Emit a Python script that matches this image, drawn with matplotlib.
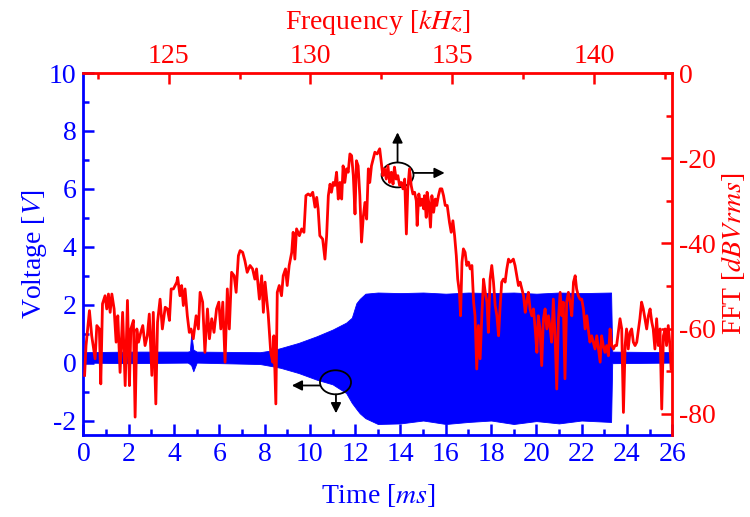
import matplotlib
matplotlib.use("Agg")
import matplotlib.pyplot as plt
from matplotlib.patches import Ellipse
from matplotlib.ticker import MultipleLocator

plt.rcParams["font.family"] = ["Liberation Serif", "DejaVu Serif"]
plt.rcParams["mathtext.fontset"] = "stix"
plt.rcParams["axes.unicode_minus"] = False
plt.rcParams["font.size"] = 20

BLUE = "#0000ff"
RED = "#ff0000"

# voltage signal envelope (time in ms, volts)
t_env = [0.0, 2.0, 4.6, 4.7, 4.76, 4.85, 5.0, 7.8, 8.3, 8.7, 9.5, 10.3, 11.0,
         11.6, 11.85, 12.05, 12.2, 12.45, 13.0, 14.0, 15.0, 16.0, 17.0, 18.0,
         19.0, 20.0, 21.0, 22.0, 23.3, 23.35, 26.0]
v_upper = [0.36, 0.38, 0.38, 0.40, 1.02, 0.45, 0.38, 0.36, 0.42, 0.50, 0.68,
           0.91, 1.14, 1.38, 1.55, 2.05, 2.20, 2.38, 2.42, 2.40, 2.42, 2.38,
           2.42, 2.40, 2.42, 2.38, 2.42, 2.40, 2.42, 0.38, 0.36]
v_lower = [0.00, -0.02, 0.00, -0.05, -0.10, -0.30, 0.00, -0.05, -0.12, -0.18,
           -0.36, -0.59, -0.75, -1.05, -1.39, -1.60, -1.75, -1.92, -2.12,
           -2.10, -2.00, -2.12, -2.05, -2.00, -2.12, -2.02, -2.10, -2.00,
           -2.05, -0.02, 0.00]

# FFT spectrum (kHz, dBVrms)
freq = [122.04, 122.09, 122.21, 122.29, 122.41, 122.47, 122.56, 122.61, 122.67,
        122.76, 122.82, 122.88, 122.94, 123.00, 123.08, 123.15, 123.21, 123.29,
        123.38, 123.47, 123.55, 123.62, 123.67, 123.76, 123.82, 123.88, 123.94,
        124.02, 124.09, 124.17, 124.25, 124.32, 124.41, 124.46, 124.55, 124.61,
        124.70, 124.78, 124.88, 124.96, 125.03, 125.09, 125.17, 125.29, 125.32,
        125.40, 125.46, 125.52, 125.58, 125.66, 125.73, 125.79, 125.87, 125.97,
        126.05, 126.11, 126.20, 126.28, 126.37, 126.44, 126.52, 126.60, 126.69,
        126.77, 126.84, 126.91, 126.99, 127.07, 127.14, 127.22, 127.31, 127.38,
        127.46, 127.52, 127.61, 127.69, 127.77, 127.87, 127.96, 128.04, 128.10,
        128.20, 128.28, 128.34, 128.40, 128.46, 128.51, 128.60, 128.67, 128.71,
        128.78, 128.83, 128.90, 128.98, 129.04, 129.12, 129.18, 129.25, 129.34,
        129.39, 129.45, 129.51, 129.61, 129.69, 129.77, 129.84, 129.92, 130.00,
        130.08, 130.16, 130.22, 130.27, 130.33, 130.43, 130.51, 130.57, 130.63,
        130.69, 130.74, 130.80, 130.86, 130.92, 130.98, 131.04, 131.10, 131.15,
        131.21, 131.27, 131.33, 131.39, 131.45, 131.51, 131.57, 131.62, 131.68,
        131.74, 131.80, 131.86, 131.92, 131.98, 132.04, 132.09, 132.15, 132.21,
        132.27, 132.35, 132.44,
        132.49, 132.55, 132.61, 132.67, 132.73, 132.79, 132.85, 132.91, 132.96,
        133.02, 133.08, 133.14, 133.20, 133.26, 133.32, 133.38, 133.43, 133.49,
        133.55, 133.61, 133.67, 133.73, 133.76, 133.82, 133.88, 133.93, 133.99,
        134.02, 134.08, 134.11, 134.17, 134.23, 134.28, 134.34, 134.40, 134.45,
        134.51, 134.57, 134.63, 134.69, 134.75, 134.82, 134.90, 134.96, 135.02,
        135.08, 135.14, 135.19, 135.25, 135.29, 135.34, 135.39, 135.45, 135.51,
        135.57, 135.63, 135.69, 135.75, 135.80, 135.86, 135.92, 135.98, 136.04,
        136.10, 136.16, 136.22, 136.27, 136.33, 136.39, 136.45, 136.51, 136.57,
        136.63, 136.68, 136.74, 136.80, 136.86, 136.92, 136.98, 137.04, 137.10,
        137.15, 137.21, 137.27, 137.33, 137.39, 137.45, 137.51, 137.57, 137.62,
        137.68, 137.74, 137.80, 137.86, 137.92, 137.98, 138.03, 138.09, 138.15,
        138.21, 138.27, 138.33, 138.39, 138.45, 138.50, 138.56, 138.62, 138.68,
        138.74, 138.80, 138.86, 138.91, 138.97, 139.03, 139.09, 139.15, 139.21,
        139.27, 139.33, 139.38, 139.44, 139.50, 139.56, 139.62, 139.68, 139.74,
        139.79, 139.85, 139.91, 139.97, 140.03, 140.09, 140.15, 140.21, 140.26,
        140.32, 140.38, 140.44, 140.50, 140.56, 140.62, 140.68, 140.73, 140.79,
        140.85, 140.91, 140.97, 141.03, 141.09, 141.14, 141.20, 141.26, 141.32,
        141.38, 141.44, 141.50, 141.56, 141.61, 141.67, 141.73, 141.79, 141.85,
        141.91, 141.97, 142.03, 142.08, 142.14, 142.20, 142.26, 142.32, 142.38,
        142.44, 142.50, 142.55, 142.61, 142.67, 142.71]
fft_db = [-71.0, -64.0, -55.8, -61.7, -67.1, -59.3, -60.1, -73.0, -54.2,
          -52.3, -55.4, -51.9, -56.2, -51.9, -55.4, -63.2, -57.0, -70.3,
          -56.2, -73.4, -53.4, -73.4, -60.1, -58.1, -80.8, -60.1, -63.2,
          -60.9, -59.3, -64.0, -61.7, -56.6, -71.0, -56.2, -77.7, -58.5,
          -53.1, -60.1, -55.0, -55.4, -58.1, -50.7, -50.7, -49.1, -48.0,
          -52.3, -49.9, -54.6, -50.7, -57.0, -60.9, -60.1, -62.4, -57.0,
          -60.1, -51.5, -53.8, -65.6, -55.4, -62.4, -57.7, -60.9, -55.4,
          -53.8, -60.1, -53.8, -67.9, -50.7, -60.1, -46.8, -47.6, -51.5,
          -42.9, -41.7, -42.1, -44.1, -46.8, -45.2, -46.0, -48.4, -46.0,
          -53.1, -47.6, -56.2, -49.1, -53.1, -56.6, -65.6, -67.9, -61.7,
          -77.7, -51.5, -49.9, -52.3, -47.6, -46.0, -49.9, -45.2, -42.1,
          -37.4, -43.7, -36.6, -38.2, -36.6, -37.4, -28.8, -28.4, -28.8,
          -28.0, -31.5, -29.2, -31.9, -38.2, -39.0, -43.7, -38.2, -28.8,
          -26.1, -28.0, -25.7, -26.4, -23.3, -29.6, -25.7, -29.6, -21.8,
          -25.7, -22.5, -23.3, -19.0, -19.4, -24.1, -33.1, -20.6, -21.8,
          -28.8, -39.7, -33.9, -30.4, -34.3, -22.5, -25.7, -21.8, -20.2,
          -18.6, -19.0, -17.8,
          -20.6, -24.1, -22.5, -24.9, -21.8, -25.7, -23.3, -26.1, -22.1,
          -24.9, -24.1, -26.4, -25.7, -27.2, -24.9, -37.8, -27.2, -22.5,
          -26.4, -28.4, -28.0, -30.0, -35.8, -28.4, -31.1, -29.6, -31.9,
          -28.8, -33.9, -28.0, -30.4, -36.2, -28.8, -32.7, -29.6, -31.1,
          -28.8, -27.2, -27.2, -28.8, -31.1, -31.1, -35.1, -37.4, -34.7,
          -38.2, -42.9, -48.4, -51.5, -57.0, -44.4, -41.3, -42.1, -45.2,
          -44.4, -46.0, -45.2, -53.8, -57.0, -69.5, -59.3, -67.1, -57.0,
          -48.4, -51.5, -53.8, -60.9, -48.4, -45.2, -49.1, -54.6, -57.0,
          -61.7, -55.4, -49.1, -48.4, -49.1, -46.0, -43.7, -44.4, -44.1,
          -43.7, -45.2, -47.6, -49.9, -49.1, -50.7, -52.3, -56.2, -53.8,
          -51.5, -55.4, -57.0, -55.4, -60.1, -65.6, -57.0, -60.1, -68.7,
          -57.7, -55.4, -60.1, -57.0, -60.1, -63.2, -53.1, -61.7, -74.2,
          -57.7, -51.5, -57.0, -53.8, -71.8, -53.8, -51.5, -53.8, -57.0,
          -49.1, -47.6, -50.7, -52.3, -53.1, -53.1, -55.4, -60.1, -57.0,
          -60.1, -63.2, -61.7, -63.2, -64.8, -61.7, -64.8, -67.9, -61.7,
          -64.0, -65.6, -64.0, -66.4, -60.1, -64.0, -64.8, -64.0, -64.0,
          -60.9, -57.7, -60.1, -79.7, -64.0, -60.1, -64.8, -60.9, -60.1,
          -63.2, -64.0, -63.2, -60.1, -57.7, -53.8, -55.4, -57.7, -60.1,
          -57.0, -55.4, -58.5, -60.1, -64.8, -57.7, -64.0, -60.1, -78.9,
          -61.7, -60.1, -64.0, -59.3, -64.0, -69.5]

fig = plt.figure(figsize=(7.5, 5.17), dpi=100)
ax = fig.add_axes([0.1113, 0.1586, 0.785, 0.7002])

ax.fill_between(t_env, v_lower, v_upper, color=BLUE, lw=0.6, edgecolor=BLUE)
ax.set_xlim(0, 26)
ax.set_ylim(-2.5, 10)
ax.set_xticks(range(0, 27, 2))
ax.xaxis.set_minor_locator(MultipleLocator(1))
ax.set_yticks(range(-2, 11, 2))
ax.yaxis.set_minor_locator(MultipleLocator(1))
ax.set_xlabel(r"Time [$ms$]", color=BLUE, labelpad=11)
ax.set_ylabel(r"Voltage [$V$]", color=BLUE, labelpad=0)
ax.tick_params(which="both", direction="in", colors=BLUE, width=1.8)
ax.tick_params(which="major", length=8, pad=5)
ax.tick_params(which="minor", length=4)
for side in ("left", "bottom"):
    ax.spines[side].set_color(BLUE)
    ax.spines[side].set_linewidth(2)
for side in ("top", "right"):
    ax.spines[side].set_visible(False)

# right axis (dB) and top axis (kHz) for the spectrum
ax_r = ax.twinx()
ax_f = ax_r.twiny()
ax_f.plot(freq, fft_db, color=RED, lw=2.0)
ax_f.set_xlim(122.0, 142.75)
ax_r.set_ylim(-85, 0)
ax_r.set_yticks(range(-80, 1, 20))
ax_r.yaxis.set_minor_locator(MultipleLocator(10))
ax_f.set_xticks([125, 130, 135, 140])
ax_f.xaxis.set_minor_locator(MultipleLocator(2.5))
ax_r.set_ylabel(r"FFT [$dBVrms$]", color=RED, labelpad=2)
ax_f.set_xlabel(r"Frequency [$kHz$]", color=RED, labelpad=11)
for a in (ax_r, ax_f):
    a.tick_params(which="both", direction="in", colors=RED, width=1.8)
    a.tick_params(which="major", length=8, pad=5)
    a.tick_params(which="minor", length=4)
    for s in a.spines.values():
        s.set_visible(False)
ax_f.tick_params(which="major", pad=3)
ax_r.spines["right"].set_visible(True)
ax_r.spines["right"].set_color(RED)
ax_r.spines["right"].set_linewidth(2)
ax_f.spines["top"].set_visible(True)
ax_f.spines["top"].set_color(RED)
ax_f.spines["top"].set_linewidth(2)

# markers pointing each curve to its axes
arrow = dict(arrowstyle="-|>", color="k", lw=1.3, mutation_scale=15,
             shrinkA=0, shrinkB=0)
ax_f.add_patch(Ellipse((13.87, 6.48), 1.41, 0.86, transform=ax.transData,
                       fill=False, ec="k", lw=1.3, clip_on=False))
ax_f.annotate("", xy=(13.87, 7.95), xytext=(13.87, 6.92),
              xycoords=ax.transData, textcoords=ax.transData, arrowprops=arrow)
ax_f.annotate("", xy=(15.95, 6.55), xytext=(14.57, 6.55),
              xycoords=ax.transData, textcoords=ax.transData, arrowprops=arrow)
ax_f.add_patch(Ellipse((11.13, -0.68), 1.37, 0.83, transform=ax.transData,
                       fill=False, ec="k", lw=1.3, clip_on=False))
ax_f.annotate("", xy=(9.2, -0.79), xytext=(10.45, -0.79),
              xycoords=ax.transData, textcoords=ax.transData, arrowprops=arrow)
ax_f.annotate("", xy=(11.15, -1.75), xytext=(11.15, -1.1),
              xycoords=ax.transData, textcoords=ax.transData, arrowprops=arrow)

fig.savefig("out.png", dpi=100)
